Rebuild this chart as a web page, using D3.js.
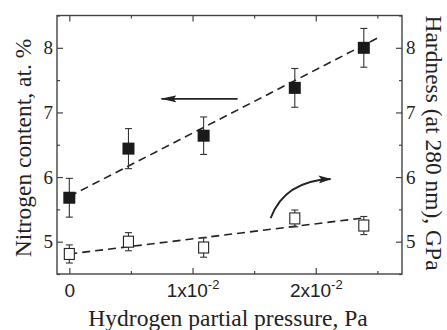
<!DOCTYPE html>
<html>
<head>
<meta charset="utf-8">
<script src="https://cdn.jsdelivr.net/npm/d3@7"></script>
<style>
  html, body { margin: 0; padding: 0; background: #fff; }
  svg { display: block; font-family: "Liberation Serif", "DejaVu Serif", serif; }
</style>
</head>
<body>
<svg id="chart" width="447" height="330"></svg>
<script>
// Hydrogen partial pressure (Pa) vs nitrogen content (left) and hardness (right)
const pressure = [0, 0.0048, 0.0109, 0.0183, 0.0239];
const nitrogen = [5.68, 6.44, 6.64, 7.38, 8.0];
const nitrogenErr = [0.3, 0.31, 0.29, 0.3, 0.3];
const hardness = [4.81, 5.0, 4.91, 5.36, 5.25];
const hardnessErr = [0.14, 0.14, 0.15, 0.13, 0.14];

// dashed linear fits, [pressure, value]
const nitrogenFit = [[0, 5.7], [0.025, 8.15]];
const hardnessFit = [[0, 4.81], [0.024, 5.37]];

const xMajor = [0, 0.01, 0.02];
const xMinor = [0.005, 0.015, 0.025];
const yMajor = [5, 6, 7, 8];
const yMinor = [4.5, 5.5, 6.5, 7.5, 8.5];
const xTickText = { 0: ["0", null], 0.01: ["1x10", "-2"], 0.02: ["2x10", "-2"] };

// annotation arrows, data coordinates
const leftArrow = [[0.01366, 7.21], [0.00748, 7.21]];
const curvedArrow = [[0.01634, 5.365], [0.01748, 5.94], [0.0212, 5.97]];

const svg = d3.select("#chart");
const margin = { top: 15.5, right: 45, bottom: 56, left: 57 };
const W = 447, H = 330;
const x0 = margin.left, x1 = W - margin.right, y0 = margin.top, y1 = H - margin.bottom;

const x = d3.scaleLinear().domain([-0.001, 0.027]).range([x0, x1]);
const y = d3.scaleLinear().domain([4.5, 8.5]).range([y1, y0]);

const ink = "#222";
const axisColor = "#444";
const titleSize = "23.5px";

// defs: arrowheads
const defs = svg.append("defs");
defs.append("marker").attr("id", "head")
  .attr("viewBox", "0 0 16 8").attr("refX", 15).attr("refY", 4)
  .attr("markerWidth", 16).attr("markerHeight", 8)
  .attr("markerUnits", "userSpaceOnUse").attr("orient", "auto")
  .append("path").attr("d", "M0,0.5 L16,4 L0,7.5 L3,4 Z").attr("fill", ink);
defs.append("marker").attr("id", "head2")
  .attr("viewBox", "0 0 13 8").attr("refX", 12).attr("refY", 4)
  .attr("markerWidth", 13).attr("markerHeight", 8)
  .attr("markerUnits", "userSpaceOnUse").attr("orient", "auto")
  .append("path").attr("d", "M0,0 L13,4 L0,8 L3,4 Z").attr("fill", ink);

// axes (ticks point inward)
function styleAxis(g) {
  g.selectAll("path.domain").remove();
  g.selectAll("line").attr("stroke", axisColor).attr("stroke-width", 1.2);
  g.selectAll("text").attr("fill", ink).style("font-size", "19px")
    .style("font-family", "Liberation Serif, serif");
}

svg.append("g").attr("transform", `translate(${x0},0)`)
  .call(d3.axisLeft(y).tickValues(yMajor).tickSize(-6).tickPadding(4).tickFormat(d3.format("d")))
  .call(styleAxis);
svg.append("g").attr("transform", `translate(${x0},0)`)
  .call(d3.axisLeft(y).tickValues(yMinor).tickSize(-3).tickFormat(""))
  .call(styleAxis);
svg.append("g").attr("transform", `translate(${x1},0)`)
  .call(d3.axisRight(y).tickValues(yMajor).tickSize(-6).tickPadding(4).tickFormat(d3.format("d")))
  .call(styleAxis);
svg.append("g").attr("transform", `translate(${x1},0)`)
  .call(d3.axisRight(y).tickValues(yMinor).tickSize(-3).tickFormat(""))
  .call(styleAxis);

const xb = svg.append("g").attr("transform", `translate(0,${y1})`)
  .call(d3.axisBottom(x).tickValues(xMajor).tickSize(-6).tickPadding(10).tickFormat(""))
  .call(styleAxis);
xb.selectAll(".tick").append("text")
  .attr("y", 23).attr("text-anchor", "middle")
  .style("font-size", "19px").attr("fill", ink)
  .each(function (d) {
    const [base, sup] = xTickText[d];
    const t = d3.select(this);
    t.append("tspan").text(base);
    if (sup) t.append("tspan").attr("dy", -8).style("font-size", "13px").text(sup);
  });
svg.append("g").attr("transform", `translate(0,${y1})`)
  .call(d3.axisBottom(x).tickValues(xMinor).tickSize(-3).tickFormat(""))
  .call(styleAxis);
svg.append("g").attr("transform", `translate(0,${y0})`)
  .call(d3.axisTop(x).tickValues(xMajor).tickSize(-6).tickFormat(""))
  .call(styleAxis);
svg.append("g").attr("transform", `translate(0,${y0})`)
  .call(d3.axisTop(x).tickValues(xMinor).tickSize(-3).tickFormat(""))
  .call(styleAxis);

// frame
svg.append("rect").attr("x", x0).attr("y", y0)
  .attr("width", x1 - x0).attr("height", y1 - y0)
  .attr("fill", "none").attr("stroke", axisColor).attr("stroke-width", 1.4);

// fits
const line = d3.line().x(d => x(d[0])).y(d => y(d[1]));
[nitrogenFit, hardnessFit].forEach(f => {
  svg.append("path").datum(f).attr("d", line)
    .attr("fill", "none").attr("stroke", ink).attr("stroke-width", 1.6)
    .attr("stroke-dasharray", "8,5");
});

// error bars
function errorBars(vals, errs) {
  const g = svg.append("g").attr("stroke", "#333").attr("stroke-width", 1.1);
  pressure.forEach((p, i) => {
    const cx = x(p), lo = y(vals[i] - errs[i]), hi = y(vals[i] + errs[i]);
    g.append("line").attr("x1", cx).attr("x2", cx).attr("y1", lo).attr("y2", hi);
    g.append("line").attr("x1", cx - 3.5).attr("x2", cx + 3.5).attr("y1", lo).attr("y2", lo);
    g.append("line").attr("x1", cx - 3.5).attr("x2", cx + 3.5).attr("y1", hi).attr("y2", hi);
  });
}
errorBars(nitrogen, nitrogenErr);
errorBars(hardness, hardnessErr);

// markers
svg.append("g").selectAll("rect").data(pressure).join("rect")
  .attr("x", (d) => x(d) - 6).attr("y", (d, i) => y(nitrogen[i]) - 6)
  .attr("width", 12).attr("height", 12).attr("fill", "#1a1a1a");
svg.append("g").selectAll("rect").data(pressure).join("rect")
  .attr("x", (d) => x(d) - 5).attr("y", (d, i) => y(hardness[i]) - 5.5)
  .attr("width", 10).attr("height", 11).attr("fill", "#fff")
  .attr("stroke", "#222").attr("stroke-width", 1.1);

// arrows
svg.append("path").datum(leftArrow).attr("d", line)
  .attr("fill", "none").attr("stroke", ink).attr("stroke-width", 1.8)
  .attr("marker-end", "url(#head)");
const c = curvedArrow.map(d => [x(d[0]), y(d[1])]);
svg.append("path")
  .attr("d", `M${c[0][0]},${c[0][1]} Q${c[1][0]},${c[1][1]} ${c[2][0]},${c[2][1]}`)
  .attr("fill", "none").attr("stroke", ink).attr("stroke-width", 1.8)
  .attr("marker-end", "url(#head2)");

// axis titles
svg.append("text")
  .attr("transform", `translate(31,148) rotate(-90)`)
  .attr("text-anchor", "middle").style("font-size", titleSize).attr("fill", ink)
  .text("Nitrogen content, at. %");
svg.append("text")
  .attr("transform", `translate(426,143) rotate(90)`)
  .attr("text-anchor", "middle").style("font-size", titleSize).attr("fill", ink)
  .text("Hardness (at 280 nm), GPa");
svg.append("text")
  .attr("x", 228).attr("y", 326)
  .attr("text-anchor", "middle").style("font-size", titleSize).attr("fill", ink)
  .text("Hydrogen partial pressure, Pa");
</script>
</body>
</html>
